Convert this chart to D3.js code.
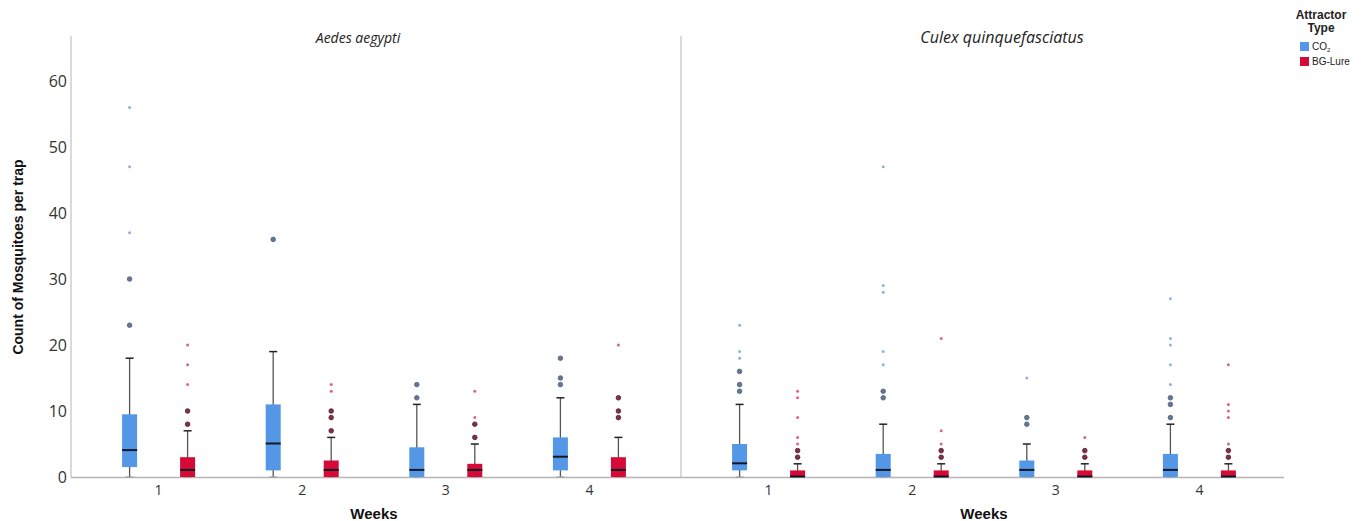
<!DOCTYPE html>
<html>
<head>
<meta charset="utf-8">
<script src="https://cdn.jsdelivr.net/npm/d3@7"></script>
<style>
  body { margin: 0; background: #fff; }
  svg { font-family: "Open Sans", "Noto Sans", sans-serif; }
</style>
</head>
<body>
<svg id="chart" width="1369" height="521"></svg>
<script>
// ─── Data ───
var species = ['Aedes aegypti', 'Culex quinquefasciatus'];
var weeks = ['1', '2', '3', '4'];
var attractors = ['CO2', 'BG-Lure'];
var yTicks = [0, 10, 20, 30, 40, 50, 60];

// box stats per species, per week: [whiskerLow, q1, median, q3, whiskerHigh]
var aedesCO2 = [[0, 1.5, 4, 9.5, 18], [0, 1, 5, 11, 19], [0, 0, 1, 4.5, 11], [0, 1, 3, 6, 12]];
var aedesBG = [[0, 0, 1, 3, 7], [0, 0, 1, 2.5, 6], [0, 0, 1, 2, 5], [0, 0, 1, 3, 6]];
var culexCO2 = [[0, 1, 2, 5, 11], [0, 0, 1, 3.5, 8], [0, 0, 1, 2.5, 5], [0, 0, 1, 3.5, 8]];
var culexBG = [[0, 0, 0, 1, 2], [0, 0, 0, 1, 2], [0, 0, 0, 1, 2], [0, 0, 0, 1, 2]];

// outliers (circles) and extremes (stars)
var aedesCO2Out = [[30, 23], [36], [14, 12], [18, 15, 14]];
var aedesCO2Ext = [[56, 47, 37], [], [], []];
var aedesBGOut = [[10, 8], [10, 9, 7], [8, 6], [12, 10, 9]];
var aedesBGExt = [[20, 17, 14], [14, 13], [13, 9], [20]];
var culexCO2Out = [[16, 14, 13], [13, 12], [9, 8], [12, 11, 9]];
var culexCO2Ext = [[23, 19, 18], [47, 29, 28, 19, 17], [15], [27, 21, 20, 17, 14]];
var culexBGOut = [[4, 3], [4, 3], [4, 3], [4, 3]];
var culexBGExt = [[13, 12, 9, 6, 5], [21, 7, 5], [6], [17, 11, 10, 9, 5]];

var stats = [[aedesCO2, aedesBG], [culexCO2, culexBG]];
var outs = [[aedesCO2Out, aedesBGOut], [culexCO2Out, culexBGOut]];
var exts = [[aedesCO2Ext, aedesBGExt], [culexCO2Ext, culexBGExt]];

var fill = { 'CO2': '#5397e6', 'BG-Lure': '#d60a36' };
var outColor = { 'CO2': '#4b5f7e', 'BG-Lure': '#5e1428' };
var extColor = { 'CO2': '#8fb3de', 'BG-Lure': '#d7668a' };

var svg = d3.select('#chart');
var y = d3.scaleLinear().domain([0, 60]).range([477, 81]);
var panelX = [[71, 677], [681, 1287]];
var offset = d3.scalePoint().domain(attractors).range([-29, 29]);
var boxW = 15;

// y axis
svg.append('line').attr('x1', 71).attr('x2', 71).attr('y1', 36).attr('y2', y(0)).attr('stroke', '#b5b5b5');
svg.append('line').attr('x1', 681).attr('x2', 681).attr('y1', 36).attr('y2', y(0)).attr('stroke', '#b5b5b5');
svg.append('line').attr('x1', 71).attr('x2', 1284).attr('y1', y(0) + 0.5).attr('y2', y(0) + 0.5).attr('stroke', '#b5b5b5').attr('stroke-width', 1.5);
svg.selectAll('.ytick').data(yTicks).join('text')
  .attr('x', 67).attr('y', function(d) { return y(d) + 6; })
  .attr('text-anchor', 'end').attr('font-size', '16px').attr('fill', '#333').text(function(d) { return d; });
svg.append('text').attr('transform', 'translate(23,' + 257 + ') rotate(-90)')
  .attr('text-anchor', 'middle').attr('font-size', '14px').attr('font-weight', '700').attr('fill', '#111')
  .attr('font-family', 'Arial, "Liberation Sans", sans-serif').text('Count of Mosquitoes per trap');

species.forEach(function(sp, si) {
  var x = d3.scalePoint().domain(weeks).range(panelX[si]).padding(0.61);
  var g = svg.append('g');
  var cx = (x('1') + x('4')) / 2;
  g.append('text').attr('x', si ? 1002 : cx - 16).attr('y', 43).attr('text-anchor', 'middle')
    .attr('font-size', si ? '16px' : '14px').attr('font-style', 'italic').attr('fill', '#222').text(sp);
  g.append('text').attr('x', cx).attr('y', 519).attr('text-anchor', 'middle')
    .attr('font-size', '15px').attr('font-weight', '700').attr('fill', '#111')
    .attr('font-family', 'Arial, "Liberation Sans", sans-serif').text('Weeks');
  weeks.forEach(function(w, wi) {
    g.append('text').attr('x', x(w)).attr('y', 495).attr('text-anchor', 'middle')
      .attr('font-size', '14px').attr('fill', '#333').text(w);
    attractors.forEach(function(a, ai) {
      var s = stats[si][ai][wi];
      var mx = x(w) + offset(a);
      var bx = mx - boxW / 2;
      // whisker
      g.append('line').attr('x1', mx).attr('x2', mx).attr('y1', y(s[0])).attr('y2', y(s[4])).attr('stroke', '#555').attr('stroke-width', 1.3);
      g.append('line').attr('x1', mx - 4).attr('x2', mx + 4).attr('y1', y(s[4])).attr('y2', y(s[4])).attr('stroke', '#222').attr('stroke-width', 1.5);
      g.append('line').attr('x1', mx - 4).attr('x2', mx + 4).attr('y1', y(s[0])).attr('y2', y(s[0])).attr('stroke', '#999').attr('stroke-width', 1);
      // box
      g.append('rect').attr('x', bx).attr('y', y(s[3])).attr('width', boxW).attr('height', Math.max(y(s[1]) - y(s[3]), 0))
        .attr('fill', fill[a]);
      g.append('line').attr('x1', bx).attr('x2', bx + boxW).attr('y1', y(s[2]) - 0.5).attr('y2', y(s[2]) - 0.5)
        .attr('stroke', '#101828').attr('stroke-width', 2);
      // outliers
      outs[si][ai][wi].forEach(function(v) {
        g.append('circle').attr('cx', mx).attr('cy', y(v)).attr('r', 2.3)
          .attr('fill', outColor[a]).attr('stroke', outColor[a]).attr('stroke-width', 0.8).attr('fill-opacity', 0.85);
      });
      exts[si][ai][wi].forEach(function(v) {
        g.append('circle').attr('cx', mx).attr('cy', y(v)).attr('r', 1.5).attr('fill', extColor[a]);
      });
    });
  });
});

// legend
var lg = svg.append('g').attr('font-family', 'Arial, "Liberation Sans", sans-serif');
lg.append('text').attr('x', 1321).attr('y', 19).attr('text-anchor', 'middle').attr('font-size', '12px').attr('font-weight', '700').attr('fill', '#222').text('Attractor');
lg.append('text').attr('x', 1321).attr('y', 32).attr('text-anchor', 'middle').attr('font-size', '12px').attr('font-weight', '700').attr('fill', '#222').text('Type');
attractors.forEach(function(a, i) {
  lg.append('rect').attr('x', 1300).attr('y', 42 + i * 15).attr('width', 9).attr('height', 9).attr('fill', fill[a]);
  var t = lg.append('text').attr('x', 1312).attr('y', 50 + i * 15).attr('font-size', '10px').attr('fill', '#222');
  if (a === 'CO2') {
    t.text('CO');
    t.append('tspan').attr('font-size', '6px').attr('dy', 2).text('2');
  } else {
    t.text(a);
  }
});
</script>
</body>
</html>
